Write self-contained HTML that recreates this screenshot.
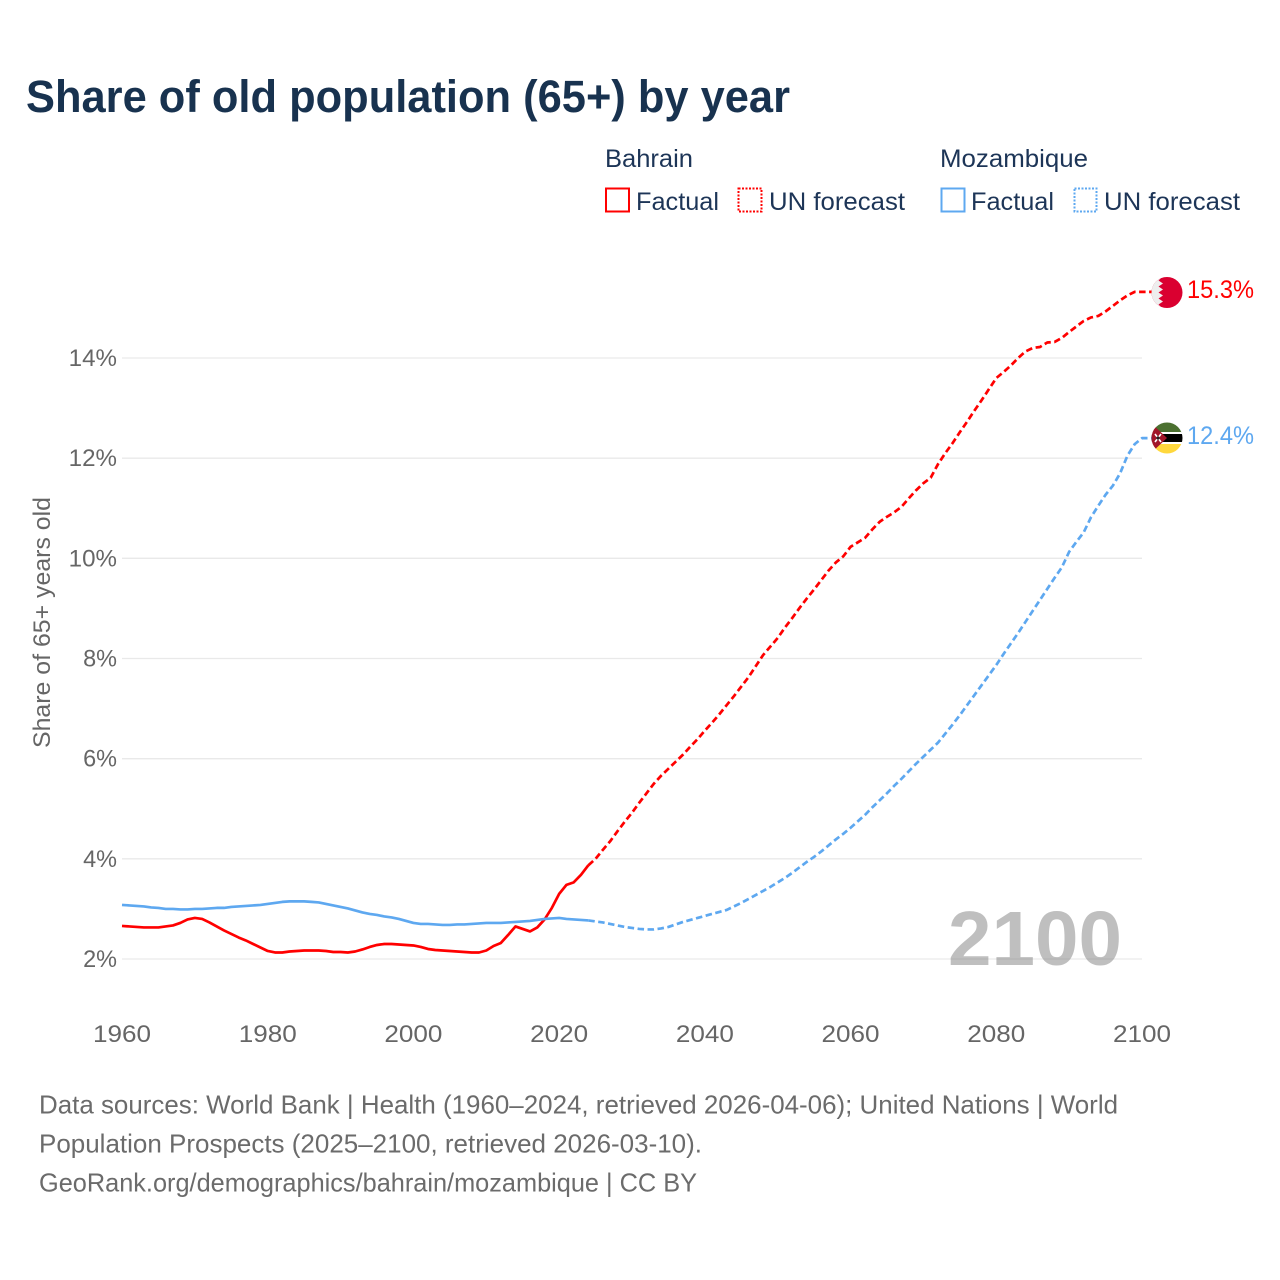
<!DOCTYPE html>
<html lang="en">
<head>
<meta charset="utf-8">
<title>Share of old population (65+) by year</title>
<style>
html,body{margin:0;padding:0;background:#fff;}
#chart{display:block;width:1280px;height:1280px;font-family:"Liberation Sans",sans-serif;}
</style>
</head>
<body>
<svg id="chart" xmlns="http://www.w3.org/2000/svg" width="1280" height="1280" viewBox="0 0 1280 1280">
  <rect x="0" y="0" width="1280" height="1280" fill="#ffffff"/>
  <text x="26" y="112" font-size="45" font-weight="700" fill="#18324f" textLength="764" lengthAdjust="spacingAndGlyphs">Share of old population (65+) by year</text>

  <g font-size="25" fill="#1d3557">
    <text x="605" y="167" textLength="88" lengthAdjust="spacingAndGlyphs">Bahrain</text>
    <rect x="606" y="188.5" width="23" height="23" fill="none" stroke="#ff0000" stroke-width="2"/>
    <text x="636" y="210" textLength="83" lengthAdjust="spacingAndGlyphs">Factual</text>
    <rect x="738.5" y="188.5" width="23" height="23" fill="none" stroke="#ff0000" stroke-width="2" stroke-dasharray="2,1.5"/>
    <text x="769" y="210" textLength="136" lengthAdjust="spacingAndGlyphs">UN forecast</text>
    <text x="940" y="167" textLength="148" lengthAdjust="spacingAndGlyphs">Mozambique</text>
    <rect x="941.5" y="188.5" width="23" height="23" fill="none" stroke="#5ea8f0" stroke-width="2"/>
    <text x="971" y="210" textLength="83" lengthAdjust="spacingAndGlyphs">Factual</text>
    <rect x="1074.5" y="188.5" width="22" height="23" fill="none" stroke="#5ea8f0" stroke-width="2" stroke-dasharray="2,1.5"/>
    <text x="1104" y="210" textLength="136" lengthAdjust="spacingAndGlyphs">UN forecast</text>
  </g>

  <g id="grid"></g>
  <g id="yticks" font-size="24" fill="#666666" text-anchor="end"></g>
  <g id="xticks" font-size="24" fill="#666666" text-anchor="middle"></g>

  <text transform="translate(50,748) rotate(-90)" font-size="24.5" fill="#666666" textLength="251" lengthAdjust="spacingAndGlyphs">Share of 65+ years old</text>
  <text x="948" y="965" font-size="77" font-weight="700" fill="#808080" fill-opacity="0.5" textLength="174" lengthAdjust="spacingAndGlyphs">2100</text>

  <g id="series"></g>

  <g>
    <defs>
      <clipPath id="clip-bh"><circle cx="1167" cy="292.5" r="15.5"/></clipPath>
      <clipPath id="clip-mz"><circle cx="1167" cy="438" r="15.5"/></clipPath>
    </defs>
    <g clip-path="url(#clip-bh)">
      <rect x="1150" y="276" width="34" height="33" fill="#da0030"/>
      <polygon points="1150,276 1163,276 1158.5,280.5 1163,283.5 1158.5,286.5 1163,289.5 1158.5,292.5 1163,295.5 1158.5,298.5 1163,301.5 1158.5,304.5 1163,309 1150,309" fill="#eeeeee"/>
    </g>
  </g>
  <g>
    <g clip-path="url(#clip-mz)">
      <rect x="1150" y="421" width="34" height="12" fill="#4b7030"/>
      <rect x="1150" y="432" width="34" height="2" fill="#ffffff"/>
      <rect x="1150" y="434" width="34" height="8" fill="#000000"/>
      <rect x="1150" y="442" width="34" height="2" fill="#ffffff"/>
      <rect x="1150" y="444" width="34" height="11" fill="#ffd83d"/>
      <polygon points="1150,422 1167,438 1150,454" fill="#a1162a"/>
      <path d="M1155 434 L1161 442 M1161 434 L1155 442" stroke="#ffffff" stroke-width="1.6"/>
      <circle cx="1158" cy="438" r="1.6" fill="#222222"/>
    </g>
  </g>

  <text id="label-bahrain" x="1187" y="298" font-size="25" fill="#ff0000" textLength="67" lengthAdjust="spacingAndGlyphs">15.3%</text>
  <text id="label-mozambique" x="1187" y="444" font-size="25" fill="#5ea8f0" textLength="67" lengthAdjust="spacingAndGlyphs">12.4%</text>

  <g font-size="26" fill="#6b6b6b">
    <text x="39" y="1113.5" textLength="1079" lengthAdjust="spacingAndGlyphs">Data sources: World Bank | Health (1960–2024, retrieved 2026-04-06); United Nations | World</text>
    <text x="39" y="1152.5" textLength="663" lengthAdjust="spacingAndGlyphs">Population Prospects (2025–2100, retrieved 2026-03-10).</text>
    <text x="39" y="1191.5" textLength="658" lengthAdjust="spacingAndGlyphs">GeoRank.org/demographics/bahrain/mozambique | CC BY</text>
  </g>
</svg>
<script>
const xTickYears = [1960, 1980, 2000, 2020, 2040, 2060, 2080, 2100];
const yTickValues = [2, 4, 6, 8, 10, 12, 14];
const factualStartYear = 1960;
const forecastStartYear = 2025;
const bahrainFactual = [
  2.66,2.65,2.64,2.63,2.63,2.63,2.65,2.67,2.72,2.79,
  2.82,2.80,2.73,2.65,2.57,2.50,2.43,2.37,2.30,2.23,
  2.16,2.13,2.13,2.15,2.16,2.17,2.17,2.17,2.16,2.14,
  2.14,2.13,2.15,2.19,2.24,2.28,2.30,2.30,2.29,2.28,
  2.27,2.24,2.20,2.18,2.17,2.16,2.15,2.14,2.13,2.13,
  2.17,2.26,2.32,2.48,2.65,2.60,2.55,2.63,2.79,3.02,
  3.30,3.48,3.53,3.68,3.87
];
const bahrainForecast = [
  4.00,4.18,4.35,4.55,4.74,4.92,5.12,5.31,5.50,5.66,
  5.80,5.94,6.08,6.24,6.39,6.56,6.72,6.89,7.07,7.25,
  7.44,7.63,7.85,8.07,8.24,8.41,8.62,8.81,9.01,9.20,
  9.38,9.57,9.76,9.92,10.04,10.23,10.32,10.41,10.58,10.73,
  10.83,10.92,11.03,11.20,11.36,11.50,11.61,11.88,12.10,12.30,
  12.52,12.73,12.95,13.16,13.38,13.60,13.72,13.85,14.00,14.13,
  14.20,14.22,14.31,14.32,14.40,14.52,14.63,14.74,14.81,14.84,
  14.93,15.04,15.15,15.25,15.32,15.32
];
const mozambiqueFactual = [
  3.08,3.07,3.06,3.05,3.03,3.02,3.00,3.00,2.99,2.99,
  3.00,3.00,3.01,3.02,3.02,3.04,3.05,3.06,3.07,3.08,
  3.10,3.12,3.14,3.15,3.15,3.15,3.14,3.13,3.10,3.07,
  3.04,3.01,2.97,2.93,2.90,2.88,2.85,2.83,2.80,2.76,
  2.72,2.70,2.70,2.69,2.68,2.68,2.69,2.69,2.70,2.71,
  2.72,2.72,2.72,2.73,2.74,2.75,2.76,2.78,2.80,2.81,
  2.82,2.80,2.79,2.78,2.77
];
const mozambiqueForecast = [
  2.75,2.73,2.70,2.67,2.64,2.62,2.60,2.59,2.59,2.61,
  2.64,2.69,2.74,2.78,2.82,2.86,2.90,2.94,2.98,3.05,
  3.12,3.20,3.28,3.36,3.44,3.53,3.62,3.72,3.83,3.94,
  4.04,4.15,4.27,4.39,4.50,4.62,4.75,4.88,5.03,5.17,
  5.31,5.46,5.60,5.75,5.90,6.04,6.18,6.32,6.50,6.68,
  6.87,7.07,7.27,7.47,7.67,7.87,8.09,8.30,8.51,8.73,
  8.95,9.17,9.39,9.61,9.82,10.13,10.33,10.52,10.82,11.05,
  11.27,11.45,11.70,12.05,12.28,12.40
];

const NS = 'http://www.w3.org/2000/svg';
const xMin = 1960, xMax = 2100, xLeft = 122, xRight = 1142;
const yLow = 2, yHigh = 14, yLowPx = 959, yHighPx = 358;
function xScale(year) { return xLeft + (year - xMin) * (xRight - xLeft) / (xMax - xMin); }
function yScale(value) { return yLowPx + (value - yLow) * (yHighPx - yLowPx) / (yHigh - yLow); }

const gridGroup = document.getElementById('grid');
const yTickGroup = document.getElementById('yticks');
const xTickGroup = document.getElementById('xticks');
const seriesGroup = document.getElementById('series');

yTickValues.forEach(function (v) {
  const line = document.createElementNS(NS, 'line');
  
  
  line.setAttribute('x1', xLeft);
  line.setAttribute('x2', xRight);
  line.setAttribute('y1', yScale(v));
  line.setAttribute('y2', yScale(v));
  line.setAttribute('stroke', '#e9e9e9');
  line.setAttribute('stroke-width', '1.3');
  gridGroup.appendChild(line);

  const label = document.createElementNS(NS, 'text');
  
  
  label.setAttribute('x', 117);
  label.setAttribute('y', yScale(v) + 8);
  const text = v + '%';
  label.textContent = text;
  label.setAttribute('textLength', 14.4 * (text.length - 1) + 19.5);
  label.setAttribute('lengthAdjust', 'spacingAndGlyphs');
  yTickGroup.appendChild(label);
});

xTickYears.forEach(function (year) {
  const label = document.createElementNS(NS, 'text');
  
  
  label.setAttribute('x', xScale(year));
  label.setAttribute('y', 1042);
  label.setAttribute('textLength', 58);
  label.setAttribute('lengthAdjust', 'spacingAndGlyphs');
  label.textContent = year;
  xTickGroup.appendChild(label);
});

function linePath(startYear, values) {
  return values.map(function (v, i) {
    return (i ? 'L' : 'M') + xScale(startYear + i).toFixed(2) + ' ' + yScale(v).toFixed(2);
  }).join(' ');
}

function drawFactual(values, color) {
  const path = document.createElementNS(NS, 'path');
  
  
  path.setAttribute('d', linePath(factualStartYear, values));
  path.setAttribute('fill', 'none');
  path.setAttribute('stroke', color);
  path.setAttribute('stroke-width', '2.7');
  path.setAttribute('stroke-linejoin', 'round');
  seriesGroup.appendChild(path);
}

function drawForecast(factual, values, color) {
  const lastYear = forecastStartYear - 1;
  const joined = [factual[factual.length - 1]].concat(values);
  const end = values[values.length - 1];
  const path = document.createElementNS(NS, 'path');
  
  
  path.setAttribute('d', linePath(lastYear, joined) + ' L1152 ' + yScale(end).toFixed(2));
  path.setAttribute('fill', 'none');
  path.setAttribute('stroke', color);
  path.setAttribute('stroke-width', '2.7');
  path.setAttribute('stroke-dasharray', '6.5,3.5');
  path.setAttribute('stroke-linejoin', 'round');
  seriesGroup.appendChild(path);
}

drawFactual(bahrainFactual, '#ff0000');
drawForecast(bahrainFactual, bahrainForecast, '#ff0000');
drawFactual(mozambiqueFactual, '#5ea8f0');
drawForecast(mozambiqueFactual, mozambiqueForecast, '#5ea8f0');
</script>
</body>
</html>
